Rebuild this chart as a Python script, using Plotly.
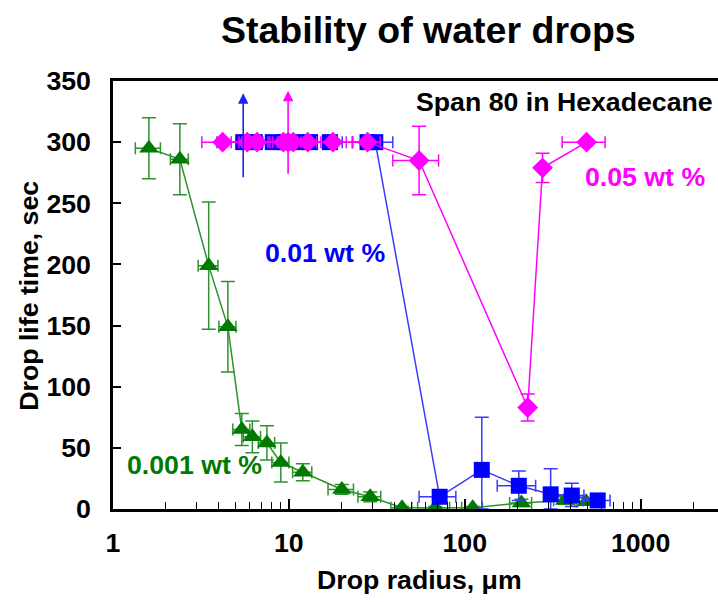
import math
import plotly.graph_objects as go

# ---- data: drop radius (um) vs. drop life time (s), Span 80 in hexadecane ----
# 0.001 wt %
green_r = [1.6, 2.4, 3.5, 4.5, 5.4, 6.2, 7.5, 9.0, 12, 20, 29, 44, 68, 111, 210, 370, 490]
green_t = [295, 286, 199, 149, 65, 59, 54, 38, 30, 16, 10, 1, 1, 1, 5, 7, 6]
green_t_err = [25, 29, 52, 37, 13, 13, 14, 16, 7, 4, 4, 1, 1, 1, 3, 3, 3]
green_r_err = [0.26, 0.28, 0.45, 0.5, 0.6, 0.7, 0.8, 1.0, 1.5, 3.3, 4.3, 6, 14, 15, 30, 50, 60]

# 0.01 wt %
blue_r = [5.5, 6.4, 8.1, 9.5, 11.1, 13.2, 17.1, 28, 31, 72, 125, 203, 308, 406, 570]
blue_t = [300, 300, 300, 300, 300, 300, 300, 300, 300, 10, 32, 19, 12, 11, 7]
blue_t_err_plus = [0, 0, 0, 0, 0, 0, 0, 0, 0, 3, 43, 12, 21, 10, 2]
blue_t_err_minus = [0, 0, 0, 0, 0, 0, 0, 0, 0, 3, 32, 12, 12, 9, 2]
blue_r_err = [1.6, 1.1, 1.4, 1.7, 2.0, 2.4, 3.0, 5, 8, 17, 0, 50, 0, 70, 100]

# 0.05 wt %
mag_r = [4.2, 5.8, 6.6, 9.3, 9.9, 10.6, 12.8, 17.8, 28, 55, 228, 277, 493]
mag_t = [300, 300, 300, 300, 300, 300, 300, 300, 300, 285, 83, 279, 300]
mag_t_err = [0, 0, 0, 0, 0, 0, 0, 0, 0, 28, 11, 12, 0]
mag_r_err = [1.0, 1.1, 1.2, 1.7, 1.8, 2.0, 2.4, 3.4, 5, 16, 0, 0, 135]

# drops that outlived the observation window (upward arrows)
arrow_r = [5.5, 9.9]
arrow_from = [270, 273]
arrow_to = [340, 342]
arrow_colors = ["#2020ff", "#ff00ff"]

x_ticks = [1, 10, 100, 1000]
y_ticks = [0, 50, 100, 150, 200, 250, 300, 350]

FONT = "Liberation Sans, Arial, sans-serif"
GREEN = "#007a00"
GREEN_LINE = "#2e922e"
BLUE = "#0000ff"
BLUE_LINE = "#3a3aff"
MAGENTA = "#ff00ff"

fig = go.Figure()

fig.add_trace(go.Scatter(
    x=green_r, y=green_t, mode="lines+markers",
    line=dict(color=GREEN_LINE, width=1.5),
    marker=dict(symbol="triangle-up", size=17, color=GREEN),
    error_y=dict(type="data", array=green_t_err, color=GREEN_LINE, thickness=1.5, width=7),
    error_x=dict(type="data", array=green_r_err, color=GREEN_LINE, thickness=1.5, width=6),
))

fig.add_trace(go.Scatter(
    x=blue_r, y=blue_t, mode="lines+markers",
    line=dict(color=BLUE_LINE, width=1.5),
    marker=dict(symbol="square", size=16, color=BLUE),
    error_y=dict(type="data", array=blue_t_err_plus, arrayminus=blue_t_err_minus,
                 color=BLUE_LINE, thickness=1.5, width=7),
    error_x=dict(type="data", array=blue_r_err, color=BLUE_LINE, thickness=1.5, width=6),
))

fig.add_trace(go.Scatter(
    x=mag_r, y=mag_t, mode="lines+markers",
    line=dict(color=MAGENTA, width=1.5),
    marker=dict(symbol="diamond", size=16, color=MAGENTA),
    error_y=dict(type="data", array=mag_t_err, color=MAGENTA, thickness=1.5, width=7),
    error_x=dict(type="data", array=mag_r_err, color=MAGENTA, thickness=1.5, width=6),
))

annotations = []
for r, y0, y1, c in zip(arrow_r, arrow_from, arrow_to, arrow_colors):
    annotations.append(dict(
        x=math.log10(r), y=y1, ax=math.log10(r), ay=y0,
        xref="x", yref="y", axref="x", ayref="y",
        text="", showarrow=True, arrowhead=2, arrowsize=1.3, arrowwidth=1.6,
        arrowcolor=c,
    ))

def label(text, x, y, size=26.7, color="black", xanchor="center", angle=0):
    return dict(text=text, x=x, y=y, xref="paper", yref="paper", showarrow=False,
                xanchor=xanchor, yanchor="middle", textangle=angle,
                font=dict(family=FONT, size=size, color=color, weight="bold"))

annotations += [
    label("Stability of water drops", 0.521, 1.119, size=37.5),
    label("Span 80 in Hexadecane", 0.995, 0.950, xanchor="right"),
    label("0.01 wt %", 0.350, 0.598, color=BLUE),
    label("0.05 wt %", 0.879, 0.775, color=MAGENTA),
    label("0.001 wt %", 0.134, 0.103, color=GREEN),
    label("Drop radius, \u03bcm", 0.506, -0.166),
    label("Drop life time, sec", -0.139, 0.498, angle=-90),
]

fig.update_layout(
    width=718, height=602,
    margin=dict(l=113, r=0, t=81, b=93),
    paper_bgcolor="white", plot_bgcolor="white",
    showlegend=False,
    annotations=annotations,
    font=dict(family=FONT, color="black"),
)

fig.update_xaxes(
    type="log", range=[0, 3.44],
    tickmode="array", tickvals=x_ticks, ticktext=[str(v) for v in x_ticks],
    ticks="inside", ticklen=10, tickwidth=1.5, tickcolor="black",
    minor=dict(ticks="inside", ticklen=7, tickwidth=1.2, tickcolor="black",
               dtick="D1", showgrid=False),
    showline=True, linewidth=2.5, linecolor="black", mirror=True,
    showgrid=False, zeroline=False,
    tickfont=dict(family=FONT, size=26.7, color="black", weight="bold"),
    ticklabelstandoff=8,
)

fig.update_yaxes(
    range=[0, 350], tickmode="array", tickvals=y_ticks,
    ticks="inside", ticklen=8, tickwidth=1.5, tickcolor="black",
    showline=True, linewidth=2.5, linecolor="black",
    showgrid=False, zeroline=False,
    tickfont=dict(family=FONT, size=26.7, color="black", weight="bold"),
    ticklabelstandoff=14,
)

fig.write_html("out.html")
